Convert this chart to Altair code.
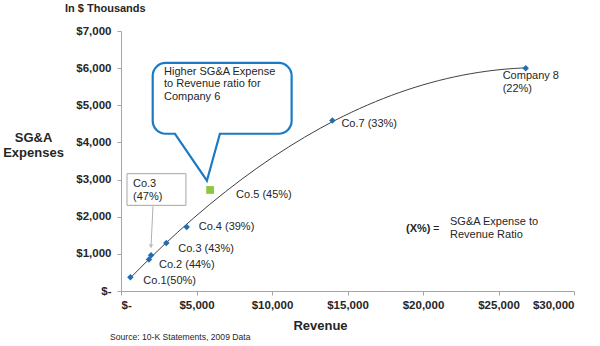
import altair as alt
import pandas as pd

# ---- data (revenue / SG&A in $ thousands) ----
blue_names = ["Co.1", "Co.2", "Co.3a", "Co.3b", "Co.4", "Co.7", "Company 8"]
blue_rev = [620, 1850, 1990, 3000, 4350, 14000, 26800]
blue_sga = [370, 850, 960, 1290, 1720, 4590, 6000]

green_name = ["Co.5"]
green_rev = [5900]
green_sga = [2720]

label_text = ["Co.1(50%)", "Co.2 (44%)", "Co.3 (43%)", "Co.4 (39%)", "Co.5 (45%)", "Co.7 (33%)", "Company 8\n(22%)"]
label_rev = [620, 1850, 3000, 4350, 5900, 14000, 26800]
label_sga = [370, 850, 1290, 1720, 2720, 4590, 6000]
label_dx = [13, 10, 12, 12, 26, 9, -23]
label_dy = [4, 6, 6, 0, 5, 3, 8]

# callout annotation (data coordinates)
callout_box_rev = [2100, 11300]
callout_box_sga = [4233, 6140]
callout_tail_rev = [3575, 5690, 6550]
callout_tail_sga = [4233, 2970, 4233]
callout_text = ["Higher SG&A Expense", "to Revenue  ratio for", "Company 6"]

co3_box_rev = [397, 4300]
co3_box_sga = [2306, 3158]
co3_text = ["Co.3", "(47%)"]
co3_arrow_rev = [2118, 1986]
co3_arrow_sga = [2280, 1180]

x_ticks = [0, 5000, 10000, 15000, 20000, 25000, 30000]
y_ticks = [0, 1000, 2000, 3000, 4000, 5000, 6000, 7000]

FONT = "Liberation Sans"
TXT = "#262626"
BLUE = "#1F6DB5"
CALLOUT = "#1B7AC4"
GREEN = "#8DC641"
AXIS = "#A6A6A6"

blue_df = pd.DataFrame({"name": blue_names, "rev": blue_rev, "sga": blue_sga})
green_df = pd.DataFrame({"name": green_name, "rev": green_rev, "sga": green_sga})

lab_expr = "datum.value == 0 ? '$-' : '$' + format(datum.value, ',')"

xs = alt.Scale(domain=[0, 30000], nice=False)
ys = alt.Scale(domain=[0, 7000], nice=False)

x_axis = alt.Axis(values=x_ticks, labelExpr=lab_expr, grid=False, tickSize=4,
                  domainColor=AXIS, tickColor=AXIS, labelFont=FONT, labelFontSize=11.5,
                  labelFontWeight="bold", labelColor=TXT, labelPadding=4,
                  title="Revenue", titleFont=FONT, titleFontSize=13, titleFontWeight="bold",
                  titleColor=TXT, titleX=199, titleY=34, titleBaseline="middle", titleAlign="center")
y_axis = alt.Axis(values=y_ticks, labelExpr=lab_expr, grid=False, tickSize=4,
                  domainColor=AXIS, tickColor=AXIS, labelFont=FONT, labelFontSize=11.5,
                  labelFontWeight="bold", labelColor=TXT, labelPadding=6,
                  title=["SG&A", "Expenses"], titleFont=FONT, titleFontSize=13,
                  titleFontWeight="bold", titleColor=TXT, titleAngle=0, titleX=-88, titleY=110,
                  titleAlign="center", titleBaseline="alphabetic", titleLineHeight=15)

X = lambda f: alt.X(f, type="quantitative", scale=xs, axis=x_axis)
Y = lambda f: alt.Y(f, type="quantitative", scale=ys, axis=y_axis)

base = alt.Chart(blue_df)

trend = base.transform_regression("rev", "sga", method="poly", order=2).mark_line(
    color="#404040", strokeWidth=1).encode(x=X("rev"), y=Y("sga"))

cb = pd.DataFrame({"x1": [callout_box_rev[0]], "x2": [callout_box_rev[1]],
                   "y1": [callout_box_sga[0]], "y2": [callout_box_sga[1]]})
callout_rect = alt.Chart(cb).mark_rect(cornerRadius=13, fill="white", stroke=CALLOUT,
                                       strokeWidth=2.2).encode(
    x=X("x1"), x2="x2", y=Y("y1"), y2="y2")

cover = pd.DataFrame({"x1": [callout_tail_rev[0] + 60], "x2": [callout_tail_rev[2] - 60],
                      "y": [callout_tail_sga[0]]})
tail_cover = alt.Chart(cover).mark_rule(color="white", strokeWidth=4).encode(
    x=X("x1"), x2="x2", y=Y("y"))

tail_df = pd.DataFrame({"rev": callout_tail_rev, "sga": callout_tail_sga, "o": [0, 1, 2]})
tail = alt.Chart(tail_df).mark_line(color=CALLOUT, strokeWidth=2.2, strokeJoin="miter").encode(
    x=X("rev"), y=Y("sga"), order="o:Q")

ct = pd.DataFrame({"rev": [2850], "sga": [5900]})
callout_txt = alt.Chart(ct).mark_text(text=callout_text, align="left", baseline="middle",
                                      font=FONT, fontSize=11, color=TXT, lineHeight=12.6).encode(
    x=X("rev"), y=Y("sga"))

c3 = pd.DataFrame({"x1": [co3_box_rev[0]], "x2": [co3_box_rev[1]],
                   "y1": [co3_box_sga[0]], "y2": [co3_box_sga[1]]})
co3_rect = alt.Chart(c3).mark_rect(fill="white", stroke=AXIS, strokeWidth=1).encode(
    x=X("x1"), x2="x2", y=Y("y1"), y2="y2")
c3t = pd.DataFrame({"rev": [794], "sga": [2880]})
co3_txt = alt.Chart(c3t).mark_text(text=co3_text, align="left", baseline="middle",
                                   font=FONT, fontSize=11, color=TXT, lineHeight=13).encode(
    x=X("rev"), y=Y("sga"))
arr_df = pd.DataFrame({"rev": co3_arrow_rev, "sga": co3_arrow_sga, "o": [0, 1]})
co3_arrow = alt.Chart(arr_df).mark_line(color="#B0B0B0", strokeWidth=1).encode(
    x=X("rev"), y=Y("sga"), order="o:Q")
head_df = pd.DataFrame({"rev": [co3_arrow_rev[1]], "sga": [co3_arrow_sga[1]]})
co3_head = alt.Chart(head_df).mark_point(shape="triangle-down", filled=True, color="#B0B0B0",
                                         size=22, yOffset=-1).encode(x=X("rev"), y=Y("sga"))

pts = base.mark_point(shape="diamond", filled=True, color=BLUE, size=42, opacity=1).encode(
    x=X("rev"), y=Y("sga"))
green = alt.Chart(green_df).mark_square(color=GREEN, size=60, opacity=1).encode(
    x=X("rev"), y=Y("sga"))

label_layers = []
for t, r, s, dx, dy in zip(label_text, label_rev, label_sga, label_dx, label_dy):
    d = pd.DataFrame({"rev": [r], "sga": [s]})
    label_layers.append(
        alt.Chart(d).mark_text(text=t.split("\n") if "\n" in t else t, align="left",
                               baseline="middle", dx=dx, dy=dy, font=FONT, fontSize=11,
                               color=TXT, lineHeight=13).encode(x=X("rev"), y=Y("sga")))

one = pd.DataFrame({"a": [0]})
in_thousands = alt.Chart(one).mark_text(text="In $ Thousands", align="left", baseline="middle",
                                        font=FONT, fontSize=11, fontWeight="bold", color=TXT).encode(
    x=alt.value(-56), y=alt.value(-22))
source = alt.Chart(one).mark_text(text="Source:  10-K Statements, 2009 Data", align="left",
                                  baseline="middle", font=FONT, fontSize=8.6, color=TXT).encode(
    x=alt.value(-11), y=alt.value(306))
xpct = alt.Chart(one).mark_text(text="(X%)", align="left", baseline="middle", font=FONT,
                                fontSize=11, fontWeight="bold", color=TXT).encode(
    x=alt.value(285), y=alt.value(198))
eq = alt.Chart(one).mark_text(text="=", align="left", baseline="middle", font=FONT,
                              fontSize=11, color=TXT).encode(x=alt.value(312), y=alt.value(198))
legend_txt = alt.Chart(one).mark_text(text=["SG&A Expense to", "Revenue  Ratio"], align="left",
                                      baseline="middle", font=FONT, fontSize=11, color=TXT,
                                      lineHeight=13).encode(x=alt.value(329), y=alt.value(191))

chart = alt.layer(
    trend, callout_rect, tail_cover, tail, callout_txt,
    co3_rect, co3_txt, co3_arrow, co3_head,
    pts, green, *label_layers,
    in_thousands, source, xpct, eq, legend_txt,
).properties(
    width=453, height=260,
    autosize=alt.AutoSizeParams(type="none"),
    padding={"left": 121, "top": 31, "right": 26, "bottom": 55},
    background="white",
).configure_view(stroke=None)

chart.save("out.html", embed_options={"renderer": "svg", "actions": False})
